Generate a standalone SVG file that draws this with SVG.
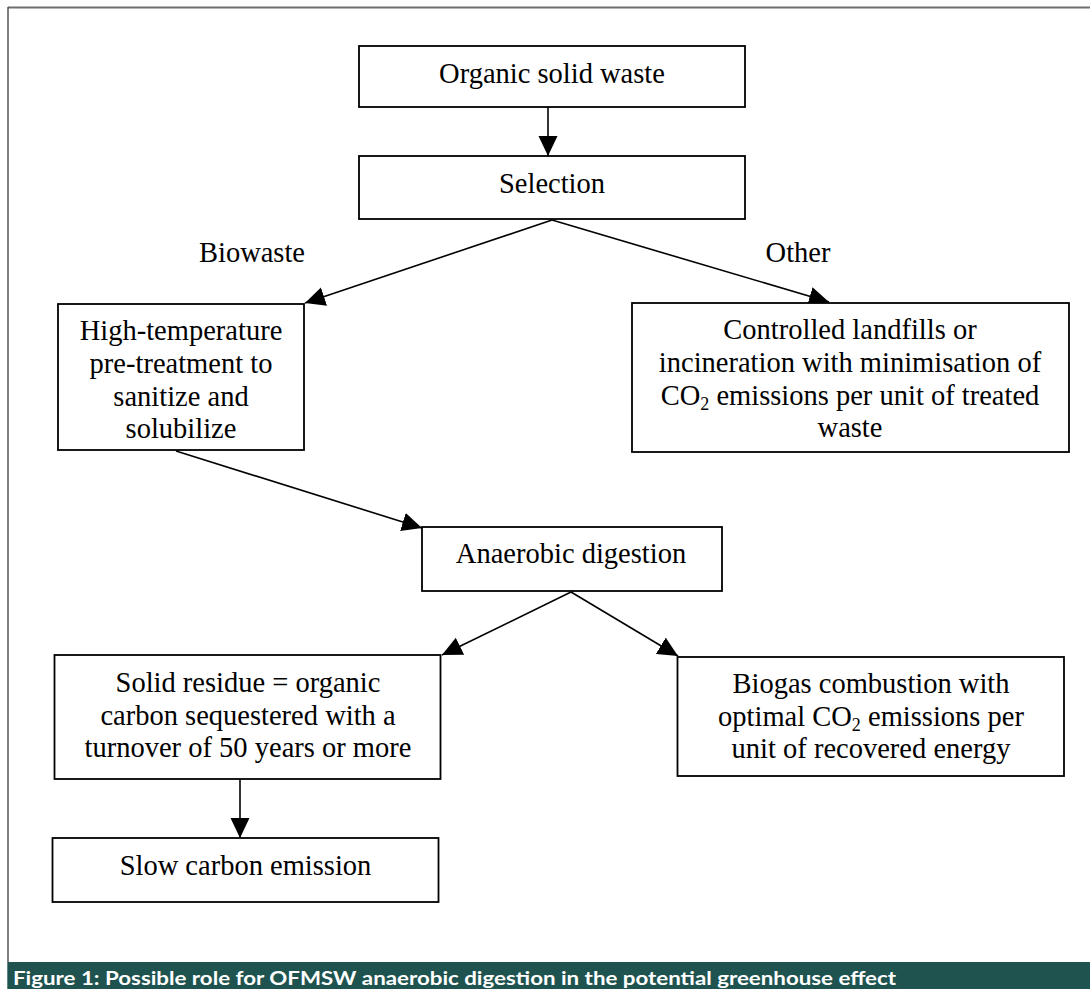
<svg xmlns="http://www.w3.org/2000/svg" width="1090" height="989" viewBox="0 0 1090 989">
<style>
.box{fill:#fff;stroke:#000;stroke-width:1.8}
.t{font-family:"Liberation Serif","Times New Roman",serif;font-size:28.5px;fill:#000;text-anchor:middle}
.sub{font-size:18px}
.c{stroke:#000;stroke-width:1.6;fill:none;marker-end:url(#ah)}
.cap{font-family:Lato,"Open Sans","Liberation Sans",sans-serif;font-weight:bold;font-size:19px;fill:#fff}
</style>
<defs>
<marker id="ah" markerUnits="userSpaceOnUse" markerWidth="21" markerHeight="20" refX="20" refY="9.5" orient="auto" viewBox="0 0 21 20">
<path d="M0,0 L20,9.5 L0,19 z" fill="#000"/>
</marker>
</defs>
<rect x="0" y="0" width="1090" height="989" fill="#fff"/>
<g id="frame">
<line x1="8" y1="7.5" x2="1090" y2="7.5" stroke="#6e6e6e" stroke-width="1.8"/>
<line x1="8" y1="7" x2="8" y2="962" stroke="#4a4a4a" stroke-width="1.4"/>
<rect x="7.3" y="962" width="1083" height="27" fill="#1f5350"/>
<text class="cap" x="13" y="985" textLength="883" lengthAdjust="spacingAndGlyphs">Figure 1: Possible role for OFMSW anaerobic digestion in the potential greenhouse effect</text>
</g>
<g id="connectors">
<line class="c" x1="548" y1="107" x2="548" y2="156"/>
<line class="c" x1="552" y1="220" x2="305" y2="303"/>
<line class="c" x1="552" y1="220" x2="829" y2="302"/>
<line class="c" x1="176" y1="451" x2="422" y2="528"/>
<line class="c" x1="571" y1="592" x2="442" y2="655"/>
<line class="c" x1="571" y1="592" x2="678" y2="656"/>
<line class="c" x1="240" y1="779" x2="240" y2="838"/>
</g>
<g id="lbl-biowaste"><text class="t" x="252" y="262">Biowaste</text></g>
<g id="lbl-other"><text class="t" x="798" y="262">Other</text></g>
<g id="n-organic">
<rect class="box" x="359" y="46" width="386" height="61"/>
<text class="t" x="552" y="83">Organic solid waste</text>
</g>
<g id="n-selection">
<rect class="box" x="359" y="156" width="386" height="63"/>
<text class="t" x="552" y="193">Selection</text>
</g>
<g id="n-hightemp">
<rect class="box" x="58" y="304" width="246" height="146"/>
<text class="t" x="181" y="340">High-temperature</text>
<text class="t" x="181" y="373">pre-treatment to</text>
<text class="t" x="181" y="405.5">sanitize and</text>
<text class="t" x="181" y="438">solubilize</text>
</g>
<g id="n-controlled">
<rect class="box" x="632" y="303" width="437" height="149"/>
<text class="t" x="850" y="339">Controlled landfills or</text>
<text class="t" x="850" y="372">incineration with minimisation of</text>
<text class="t" x="850" y="404.5">CO<tspan class="sub" dy="5">2</tspan><tspan dy="-5"> emissions per unit of treated</tspan></text>
<text class="t" x="850" y="437">waste</text>
</g>
<g id="n-anaerobic">
<rect class="box" x="422" y="527" width="300" height="64"/>
<text class="t" x="571" y="563">Anaerobic digestion</text>
</g>
<g id="n-solid">
<rect class="box" x="54.5" y="655" width="386" height="124"/>
<text class="t" x="248" y="692">Solid residue = organic</text>
<text class="t" x="248" y="724.5">carbon sequestered with a</text>
<text class="t" x="248" y="757">turnover of 50 years or more</text>
</g>
<g id="n-slow">
<rect class="box" x="52.5" y="838" width="386" height="64"/>
<text class="t" x="245.5" y="875">Slow carbon emission</text>
</g>
<g id="n-biogas">
<rect class="box" x="677.5" y="657" width="386.5" height="119"/>
<text class="t" x="871" y="693">Biogas combustion with</text>
<text class="t" x="871" y="726">optimal CO<tspan class="sub" dy="5">2</tspan><tspan dy="-5"> emissions per</tspan></text>
<text class="t" x="871" y="758">unit of recovered energy</text>
</g>
</svg>
